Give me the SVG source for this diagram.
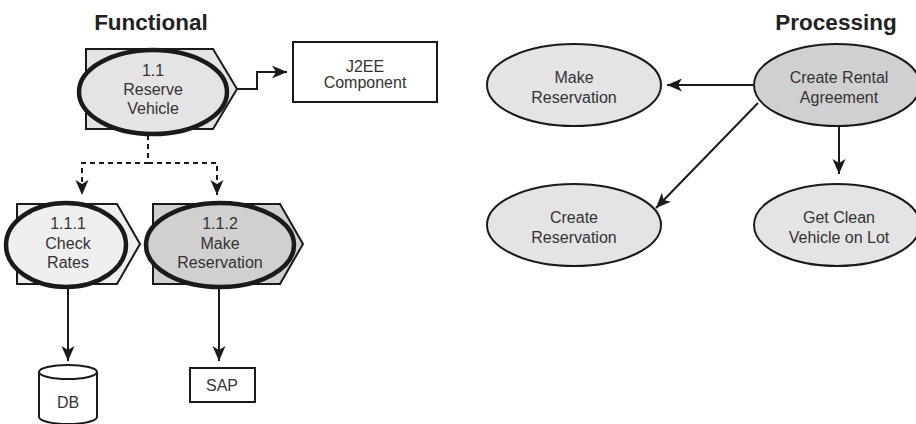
<svg xmlns="http://www.w3.org/2000/svg" width="916" height="424" viewBox="0 0 916 424">
  <style>
    .title { font-family: "Liberation Sans", Arial, sans-serif; font-size: 22.5px; font-weight: bold; fill: #222; text-anchor: middle; }
    .lbl { font-family: "Liberation Sans", Arial, sans-serif; font-size: 16px; fill: #333; text-anchor: middle; }
    .box { fill: #ffffff; stroke: #1a1a1a; stroke-width: 2; }
    .pent { stroke: #1a1a1a; stroke-width: 2; }
    .ring { stroke: #1a1a1a; stroke-width: 4.5; }
    .oval { stroke: #1a1a1a; stroke-width: 2; }
    .light { fill: #efefef; }
    .mid { fill: #e4e4e4; }
    .dark { fill: #d0d0d0; }
    .wire { fill: none; stroke: #1a1a1a; stroke-width: 2; }
    .dash { stroke-dasharray: 5 4; }
  </style>
  <defs>
    <marker id="arrow" markerUnits="userSpaceOnUse" markerWidth="16" markerHeight="14" refX="15" refY="7" orient="auto">
      <path d="M0,0.5 L15,7 L0,13.5 L4,7 z" fill="#1a1a1a"/>
    </marker>
  </defs>

  <text class="title" x="151" y="30">Functional</text>
  <text class="title" x="836" y="30">Processing</text>

  <!-- connectors -->
  <g id="connectors">
    <polyline class="wire" points="237,89 257,89 257,72 287,72" marker-end="url(#arrow)"/>
    <polyline class="wire dash" points="148,135 148,163 82,163 82,195" marker-end="url(#arrow)"/>
    <polyline class="wire dash" points="148,163 217,163 217,195" marker-end="url(#arrow)"/>
    <line class="wire" x1="68" y1="288" x2="68" y2="361" marker-end="url(#arrow)"/>
    <line class="wire" x1="219" y1="288" x2="219" y2="361" marker-end="url(#arrow)"/>
    <line class="wire" x1="753" y1="85" x2="667" y2="85" marker-end="url(#arrow)"/>
    <line class="wire" x1="758" y1="103" x2="656" y2="208" marker-end="url(#arrow)"/>
    <line class="wire" x1="839" y1="125" x2="839" y2="174" marker-end="url(#arrow)"/>
  </g>

  <!-- functional decomposition -->
  <g id="reserve-vehicle">
    <polygon class="pent mid" points="86,49 213,49 237,89 213,129 86,129"/>
    <ellipse class="ring mid" cx="153" cy="92" rx="74" ry="42"/>
    <text class="lbl" x="153" y="76">1.1</text>
    <text class="lbl" x="153" y="95">Reserve</text>
    <text class="lbl" x="153" y="114">Vehicle</text>
  </g>

  <g id="j2ee-component">
    <rect class="box" x="293" y="42" width="144" height="60"/>
    <text class="lbl" x="365" y="72">J2EE</text>
    <text class="lbl" x="365" y="88">Component</text>
  </g>

  <g id="check-rates">
    <polygon class="pent light" points="17,204 117,204 140,244 117,284 17,284"/>
    <ellipse class="ring light" cx="66" cy="245" rx="60" ry="42"/>
    <text class="lbl" x="68" y="229">1.1.1</text>
    <text class="lbl" x="68" y="249">Check</text>
    <text class="lbl" x="68" y="268">Rates</text>
  </g>

  <g id="make-reservation-task">
    <polygon class="pent dark" points="153,204 280,204 303,244 280,284 153,284"/>
    <ellipse class="ring dark" cx="220" cy="245" rx="74" ry="42"/>
    <text class="lbl" x="220" y="229">1.1.2</text>
    <text class="lbl" x="220" y="249">Make</text>
    <text class="lbl" x="220" y="268">Reservation</text>
  </g>

  <g id="db">
    <path class="box" d="M39,372 L39,417 A29,7 0 0 0 97,417 L97,372"/>
    <ellipse class="box" cx="68" cy="372" rx="29" ry="7"/>
    <text class="lbl" x="68" y="408">DB</text>
  </g>

  <g id="sap">
    <rect class="box" x="190" y="368" width="65" height="34"/>
    <text class="lbl" x="222" y="391">SAP</text>
  </g>

  <!-- processing flow -->
  <g id="make-reservation">
    <ellipse class="oval mid" cx="574" cy="85" rx="87" ry="41"/>
    <text class="lbl" x="574" y="83">Make</text>
    <text class="lbl" x="574" y="103">Reservation</text>
  </g>

  <g id="create-rental-agreement">
    <ellipse class="oval dark" cx="837" cy="85" rx="83" ry="41"/>
    <text class="lbl" x="839" y="83">Create Rental</text>
    <text class="lbl" x="839" y="103">Agreement</text>
  </g>

  <g id="create-reservation">
    <ellipse class="oval mid" cx="574" cy="225" rx="87" ry="41"/>
    <text class="lbl" x="574" y="223">Create</text>
    <text class="lbl" x="574" y="243">Reservation</text>
  </g>

  <g id="get-clean-vehicle">
    <ellipse class="oval mid" cx="837" cy="225" rx="83" ry="41"/>
    <text class="lbl" x="839" y="223">Get Clean</text>
    <text class="lbl" x="839" y="243">Vehicle on Lot</text>
  </g>
</svg>
